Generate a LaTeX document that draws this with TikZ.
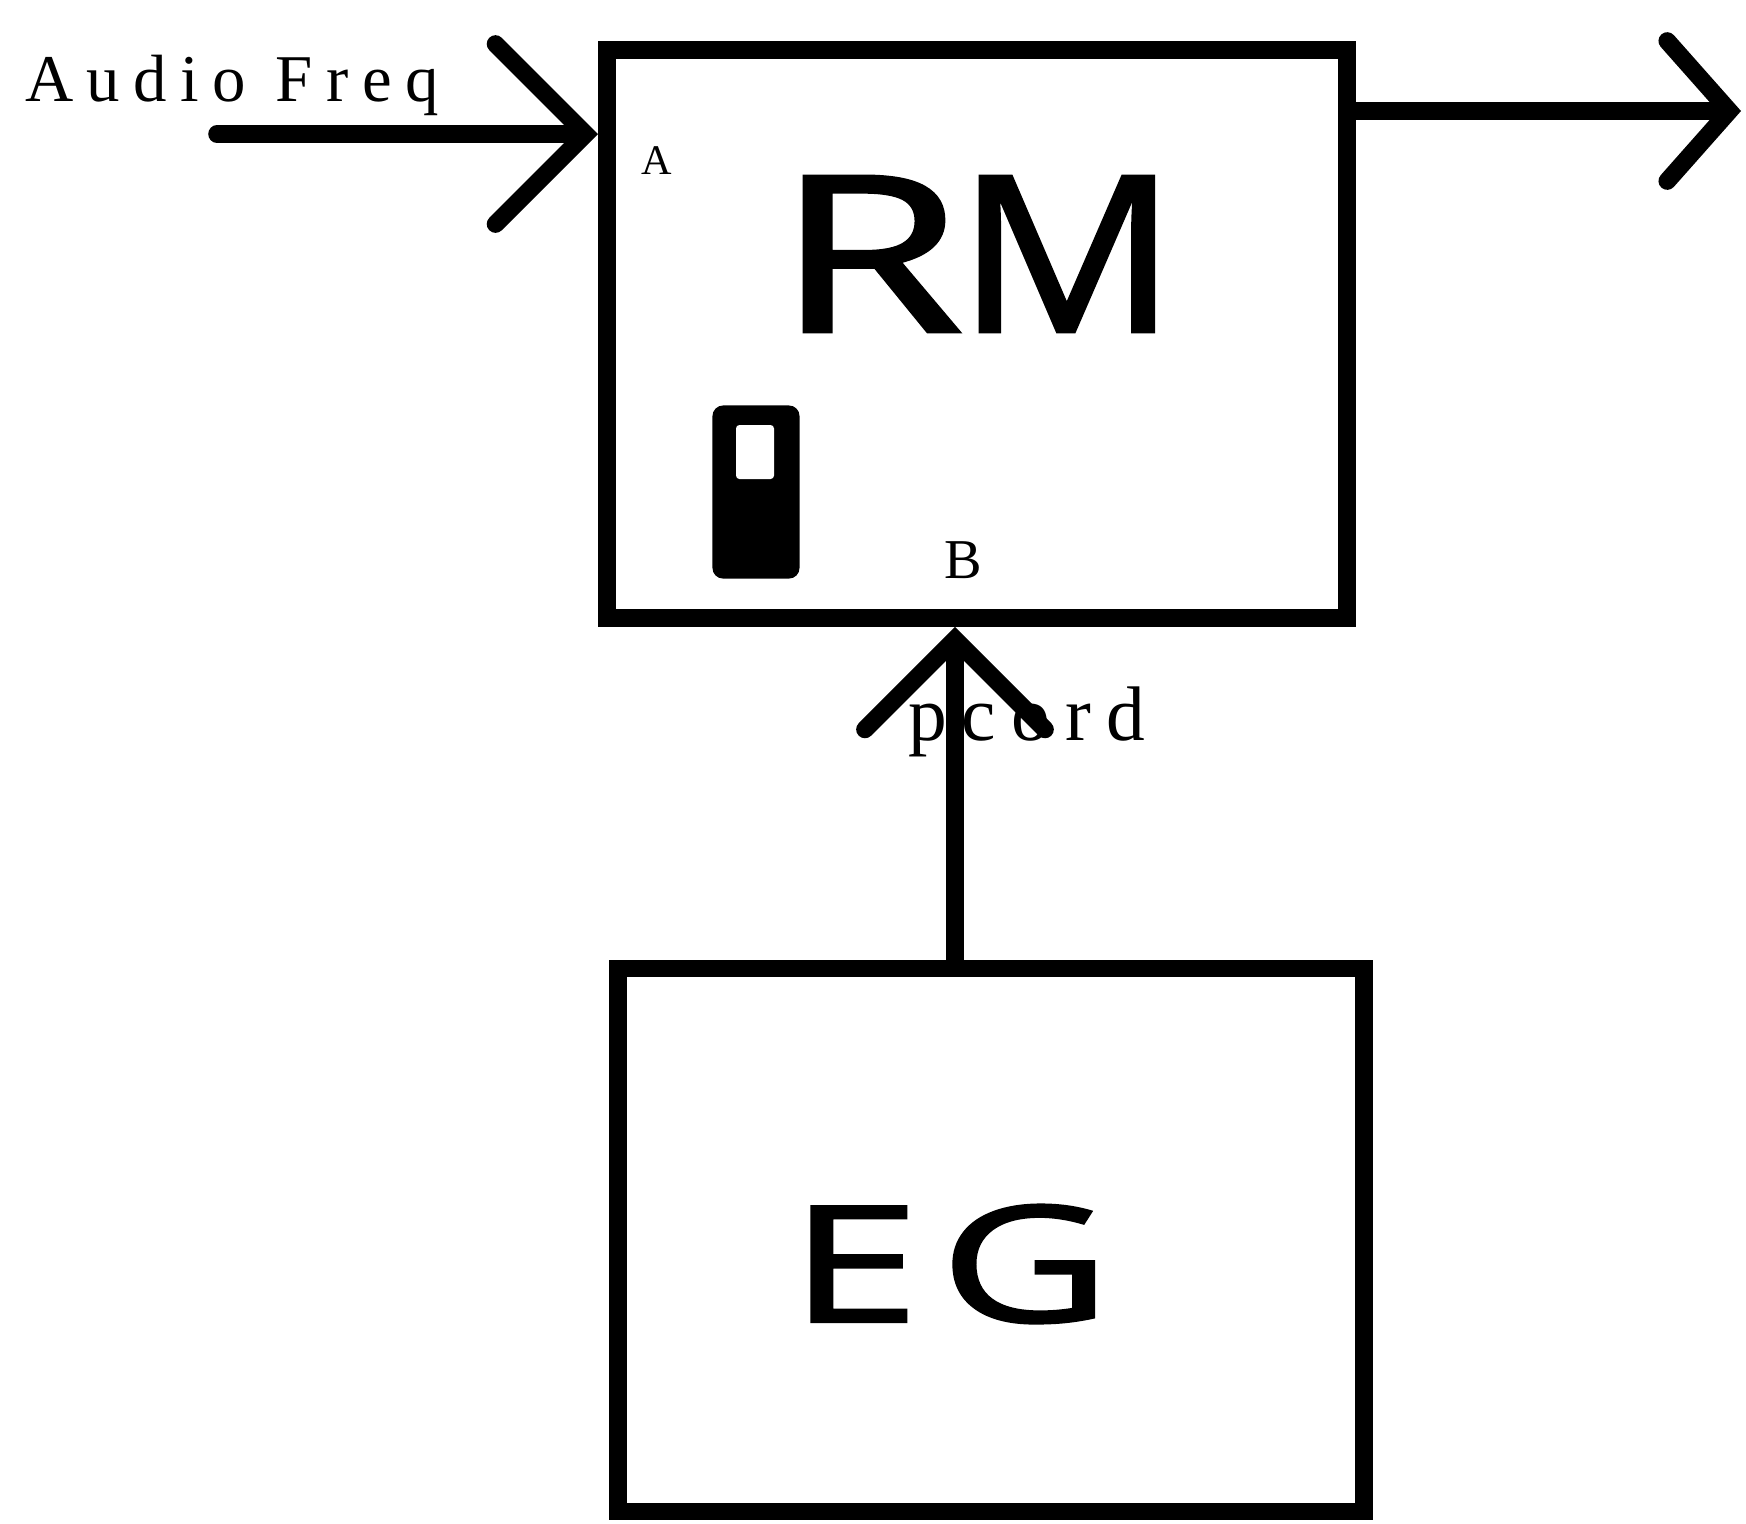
\documentclass[tikz,border=0pt]{standalone}
\usepackage{fontspec}
\setmainfont{Liberation Serif}
\newfontfamily\blockfont[FakeBold=1.5]{Open Sans}
\newfontfamily\spacedfont[LetterSpace=20]{Liberation Serif}
\usetikzlibrary{arrows.meta,positioning}
\tikzset{
  blkbox/.style={draw=black,line width=5pt,inner sep=0pt},
  blklabel/.style={font=\blockfont,inner sep=0pt,anchor=center},
  portlabel/.style={inner sep=0pt},
  sigarr/.style={line width=5pt,line cap=round,-{Straight Barb[length=9mm,width=18mm,line cap=round]}},
  outarr/.style={line width=5pt,line cap=round,-{Straight Barb[length=6.2mm,width=14mm,line cap=round]}}
}

\begin{document}
\begin{tikzpicture}[x=0.01cm,y=-0.01cm]
  \useasboundingbox (0,0) rectangle (1746,1523);
  % blocks
  \node[blkbox,minimum width=7.4cm,minimum height=5.68cm] (rmbox) at (977,334) {};
  \node[blkbox,minimum width=7.46cm,minimum height=5.43cm] (egbox) at (991,1240) {};
  \node[blklabel,font=\blockfont\fontsize{62}{64}\selectfont] (rmtext) at (976,254) {\scalebox{1.4}[1]{R}\kern-2pt\scalebox{1.12}[1]{M}};
  \node[blklabel,font=\blockfont\fontsize{46}{50}\selectfont] (egtext) at (950,1264) {\scalebox{1.45}[1]{E\kern4pt G}};
  % switch
  \node[fill=black,rounded corners=3pt,minimum width=0.87cm,minimum height=1.73cm,inner sep=0pt] (swbody) at (756,492) {};
  \node[fill=white,rounded corners=1pt,minimum width=0.38cm,minimum height=0.54cm,inner sep=0pt] (swknob) at (755,452) {};
  % labels
  \node[portlabel,font=\spacedfont\fontsize{19}{21}\selectfont] (aflabel) at (232,85) {Audio Freq};
  \node[portlabel,font=\fontsize{12}{14}\selectfont] (alabel) at (657,161) {A};
  \node[portlabel,font=\fontsize{16}{18}\selectfont] (blabel) at (963,560) {B};
  \node[portlabel,font=\spacedfont\fontsize{22}{24}\selectfont] (cordlabel) at (1027,722) {p\kern4pt cord};
  % connectors
  \coordinate (afin) at (217,134);
  \coordinate (rmout) at (1741,111);
  \draw[sigarr] (afin) -- (afin -| rmbox.west);
  \draw[outarr] (rmout -| rmbox.east) -- (rmout);
  \draw[sigarr] ([xshift=-0.36cm]egbox.north) -- ([xshift=-0.36cm]egbox.north |- rmbox.south);
\end{tikzpicture}
\end{document}
